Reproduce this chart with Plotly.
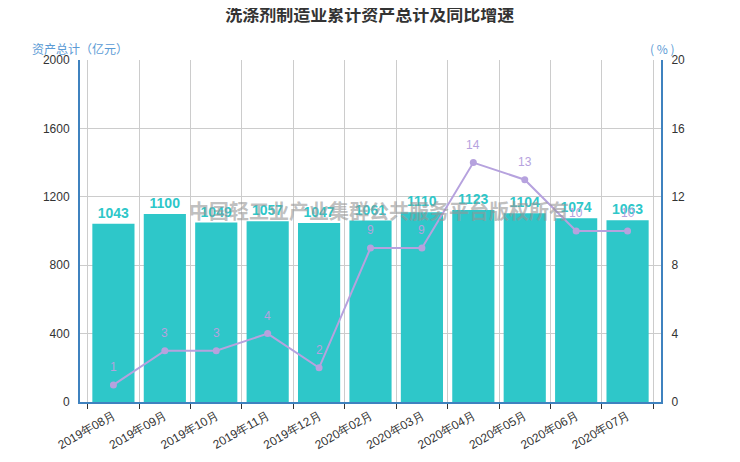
import plotly.graph_objects as go

# 数据
months = ['2019年08月', '2019年09月', '2019年10月', '2019年11月', '2019年12月',
          '2020年02月', '2020年03月', '2020年04月', '2020年05月', '2020年06月', '2020年07月']
assets = [1043, 1100, 1049, 1057, 1047, 1061, 1110, 1123, 1104, 1074, 1063]
growth = [1, 3, 3, 4, 2, 9, 9, 14, 13, 10, 10]

bar_color = '#2ec7c9'
line_color = '#b6a2de'
axis_blue = '#3f82bf'
name_blue = '#5b9bd5'

fig = go.Figure()

fig.add_trace(go.Bar(
    x=months,
    y=assets,
    name='资产总计',
    marker=dict(color=bar_color, line=dict(width=0)),
    text=assets,
    texttemplate='%{text}',
    textposition='outside',
    outsidetextfont=dict(family='Liberation Sans', size=14, color=bar_color, weight='bold'),
    cliponaxis=False,
))

fig.add_trace(go.Scatter(
    x=months,
    y=growth,
    name='同比增速',
    yaxis='y2',
    mode='lines+markers',
    line=dict(color=line_color, width=2),
    marker=dict(color=line_color, size=7),
    cliponaxis=False,
))

# 折线数值标签
for m, g in zip(months, growth):
    fig.add_annotation(
        x=m, y=g, xref='x', yref='y2',
        text=str(g), showarrow=False, yshift=18,
        font=dict(family='Liberation Sans', size=12, color=line_color),
    )

# 水印
fig.add_annotation(
    x=0.515, y=0.56, xref='paper', yref='paper',
    text='中国轻工业产业集群公共服务平台版权所有', showarrow=False,
    font=dict(family='Noto Sans CJK SC', size=20, color='rgba(150,150,150,0.6)', weight='bold'),
)

# 轴名称
fig.add_annotation(
    x=0.0, y=1.035, xref='paper', yref='paper', text='资产总计（亿元）', showarrow=False,
    xanchor='center', yanchor='middle',
    font=dict(family='Noto Sans CJK SC', size=12, color=name_blue),
)
fig.add_annotation(
    x=1.002, y=1.035, xref='paper', yref='paper', text='( % )', showarrow=False,
    xanchor='center', yanchor='middle',
    font=dict(family='Noto Sans CJK SC', size=12, color=name_blue),
)

fig.update_layout(
    width=740, height=462,
    margin=dict(l=72, r=87, t=52, b=68),
    paper_bgcolor='white',
    plot_bgcolor='white',
    showlegend=False,
    bargap=0.18,
    title=dict(
        text='洗涤剂制造业累计资产总计及同比增速',
        x=0.489, xanchor='center', y=1 - 7 / 462, yanchor='middle',
        font=dict(family='Noto Sans CJK SC', size=17, color='#333', weight='bold'),
    ),
    font=dict(family='Liberation Sans', size=12, color='#333'),
    xaxis=dict(
        type='category',
        automargin=False,
        tickson='boundaries',
        showgrid=True, gridcolor='#ccc', gridwidth=1,
        showline=True, linecolor=axis_blue, linewidth=2,
        ticks='outside', ticklen=5, tickcolor='#333',
        tickangle=-30,
        tickfont=dict(family='Liberation Sans', size=12, color='#333'),
    ),
    yaxis=dict(
        automargin=False,
        range=[0, 2000], dtick=400,
        showgrid=True, gridcolor='#ccc', gridwidth=1,
        showline=True, linecolor=axis_blue, linewidth=2,
        zeroline=False,
        ticks='', ticklabelstandoff=6,
        tickfont=dict(family='Liberation Sans', size=12, color='#333'),
    ),
    yaxis2=dict(
        automargin=False,
        overlaying='y', side='right',
        range=[0, 20], dtick=4,
        showgrid=False,
        showline=True, linecolor=axis_blue, linewidth=2,
        zeroline=False,
        ticks='', ticklabelstandoff=6,
        tickfont=dict(family='Liberation Sans', size=12, color='#333'),
    ),
)

fig.write_html('out.html')
